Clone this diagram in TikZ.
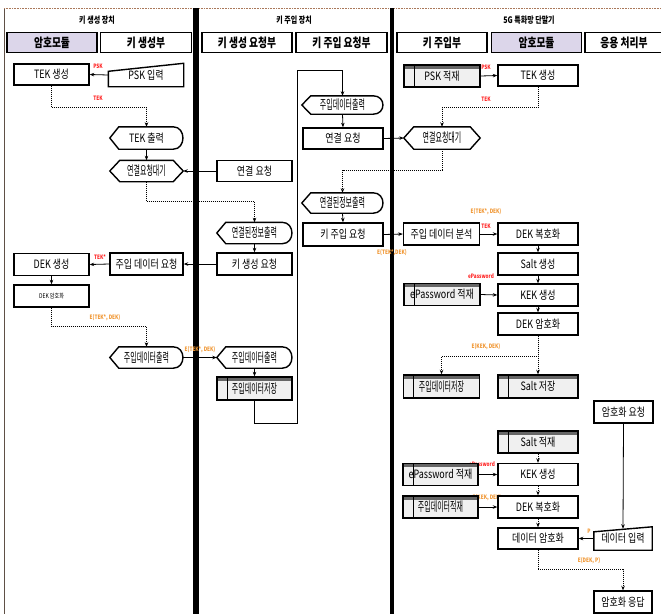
\documentclass[tikz,border=0pt]{standalone}
\usepackage{fontspec}
\usepackage{graphicx}
\setmainfont{Noto Sans CJK KR}[FakeStretch=0.78]
\usetikzlibrary{arrows.meta,calc}
\definecolor{purp}{RGB}{220,214,234}
\definecolor{lred}{RGB}{255,35,35}
\definecolor{lorg}{RGB}{240,150,50}
\definecolor{sgray}{RGB}{240,240,240}
\definecolor{brd}{RGB}{95,80,70}
\definecolor{topdot}{RGB}{170,120,90}
\newcommand\cmp[1]{\scalebox{0.69}[1]{\fontsize{13}{14}\selectfont #1}}
\tikzset{
 txt/.style={font=\fontsize{11.5}{12}\selectfont},
 bx/.style={draw, line width=1.4pt, fill=white, inner sep=0pt, minimum height=21pt, txt},
 lane/.style={draw, line width=1.7pt, fill=white, inner sep=0pt, minimum width=90pt, minimum height=20pt, font=\fontsize{12.5}{13}\selectfont\bfseries},
 store/.style={bx, fill=sgray, path picture={
   \fill[black!60] (path picture bounding box.north west) rectangle ([yshift=-3.5pt]path picture bounding box.north east);
   \draw[line width=0.9pt] ([xshift=10pt]path picture bounding box.north west) -- ([xshift=10pt]path picture bounding box.south west);
 }},
 ghost/.style={inner sep=0pt, txt},
 shp/.style={draw, line width=1.4pt},
 arr/.style={-{Stealth[length=4.5pt,width=3.5pt]}, line width=0.8pt},
 dotarr/.style={arr, dash pattern=on 1pt off 1pt},
 rlab/.style={text=lred, inner sep=0pt, font=\fontsize{6}{6}\selectfont\bfseries},
 olab/.style={rlab, text=lorg},
 ttl/.style={inner sep=0pt, font=\fontsize{9}{10}\selectfont\bfseries},
}
% name, x, y, text, width, height
\newcommand\DispN[6]{%
 \node[ghost, minimum width=#5pt, minimum height=#6pt] (#1) at (#2,#3) {#4};
 \draw[shp] (#1.west) -- ([xshift=9pt]#1.north west) -- ([xshift=-10pt]#1.north east)
   .. controls ([xshift=3pt]#1.north east) and ([xshift=3pt]#1.south east) .. ([xshift=-10pt]#1.south east)
   -- ([xshift=9pt]#1.south west) -- cycle;}
\newcommand\HexN[6]{%
 \node[ghost, minimum width=#5pt, minimum height=#6pt] (#1) at (#2,#3) {#4};
 \draw[shp] (#1.west) -- ([xshift=10pt]#1.north west) -- ([xshift=-10pt]#1.north east) -- (#1.east)
   -- ([xshift=-10pt]#1.south east) -- ([xshift=10pt]#1.south west) -- cycle;}
% name, x, y, text, width, height, slant
\newcommand\ManN[7]{%
 \node[ghost, minimum width=#5pt, minimum height=#6pt] (#1) at (#2,#3) {#4};
 \draw[shp] (#1.south west) -- ([yshift=-#7pt]#1.north west) -- (#1.north east) -- (#1.south east) -- cycle;}
\begin{document}
\begin{tikzpicture}[x=1pt,y=-1pt]
\useasboundingbox (0,0) rectangle (661,614);
% frame and lane separators
\draw[brd, line width=0.8pt] (4,8) -- (4,614);
\draw[topdot, densely dotted, line width=0.6pt] (4,8) -- (661,8);
\fill (193,8) rectangle (199,614);
\fill (390,8) rectangle (394,614);
% titles
\node[ttl] (t1) at (97,20) {키 생성 장치};
\node[ttl] (t2) at (294,20) {키 주입 장치};
\node[ttl] (t3) at (529,20) {5G 특화망 단말기};
% lane headers
\node[lane, fill=purp] (ln1) at (52,42.5) {암호모듈};
\node[lane, minimum width=91pt] (ln2) at (146,42.5) {키 생성부};
\node[lane] (ln3) at (247,42.5) {키 생성 요청부};
\node[lane, minimum width=91pt] (ln4) at (341.5,42.5) {키 주입 요청부};
\node[lane] (ln5) at (442,42.5) {키 주입부};
\node[lane, fill=purp] (ln6) at (536.5,42.5) {암호모듈};
\node[lane, minimum width=78pt] (ln7) at (624,42.5) {응용 처리부};
% labels (drawn before boxes)
\node[rlab] (lb1) at (98,66) {PSK};
\node[rlab] (lb2) at (98,98) {TEK};
\node[rlab] (lb3) at (100,257) {TEK*};
\node[olab] (lb4) at (105,318) {E(TEK*, DEK)};
\node[olab] (lb5) at (200,350) {E(TEK*, DEK)};
\node[olab] (lb6) at (392,253) {E(TEK*,DEK)};
\node[olab] (lb7) at (486,212) {E(TEK*, DEK)};
\node[rlab] (lb8) at (486,226) {TEK};
\node[rlab] (lb9) at (486,67) {PSK};
\node[rlab] (lb10) at (486,99) {TEK};
\node[rlab] (lb11) at (481,276) {ePassword};
\node[olab] (lb12) at (486,347) {E(KEK, DEK)};
\node[rlab] (lb13) at (482,464) {ePassword};
\node[olab] (lb14) at (487,498) {E(KEK, DEK)};
\node[olab] (lb15) at (589,531) {P};
\node[olab] (lb16) at (589,561) {E(DEK, P)};
% key generation device
\node[bx, minimum width=75pt] (tek1) at (51.5,74.5) {TEK 생성};
\ManN{psk1}{146}{75}{PSK 입력}{75}{23}{8}
\DispN{tekout}{146.5}{138}{TEK 출력}{73}{22}
\HexN{wait1}{146.5}{171}{\cmp{연결요청대기}}{73}{21}
\node[bx, minimum width=75pt] (conreq1) at (254.5,171) {연결 요청};
\DispN{coninfo1}{254.5}{233}{\cmp{연결된정보출력}}{75}{21}
\node[bx, minimum width=75pt, minimum height=22pt] (keygenreq) at (254.5,264) {키 생성 요청};
\node[bx, minimum width=73pt, minimum height=22pt] (injreq) at (146.5,264) {주입 데이터 요청};
\node[bx, minimum width=75pt, minimum height=22pt] (dekgen) at (51.5,264.5) {DEK 생성};
\node[bx, minimum width=75pt, minimum height=22pt, font=\fontsize{6.5}{7}\selectfont] (dekenc1) at (51.5,296) {DEK 암호화};
\DispN{injout1}{146.5}{357.5}{\cmp{주입데이터출력}}{73}{21}
\DispN{injout2}{254.5}{357.5}{\cmp{주입데이터출력}}{75}{21}
\node[store, minimum width=75pt, minimum height=23pt] (injstore1) at (254.5,388.5) {\cmp{주입데이터저장}};
% key injection request
\DispN{injout3}{342.5}{105}{\cmp{주입데이터출력}}{81}{18}
\node[bx, minimum width=80pt, minimum height=21pt] (conreq2) at (343,138.5) {연결 요청};
\DispN{coninfo2}{342.5}{203}{\cmp{연결된정보출력}}{81}{20}
\node[bx, minimum width=80pt, minimum height=23pt] (keyinjreq) at (343,234.5) {키 주입 요청};
% terminal
\node[store, minimum width=76pt, minimum height=22pt] (pskload) at (442,76) {PSK 적재};
\node[bx, minimum width=80pt] (tek2) at (538,75.5) {TEK 생성};
\HexN{wait2}{442}{138}{\cmp{연결요청대기}}{76}{22}
\node[bx, minimum width=76pt, minimum height=22pt] (injana) at (441.5,234) {주입 데이터 분석};
\node[bx, minimum width=80pt, minimum height=22pt] (dekdec1) at (538,234) {DEK 복호화};
\node[bx, minimum width=80pt, minimum height=22pt] (saltgen) at (538,264) {Salt 생성};
\node[store, minimum width=76pt, minimum height=22pt] (epw1) at (442,294.5) {ePassword 적재};
\node[bx, minimum width=80pt, minimum height=22pt] (kek1) at (538,295) {KEK 생성};
\node[bx, minimum width=80pt, minimum height=22pt] (dekenc2) at (538,324) {DEK 암호화};
\node[store, minimum width=76pt, minimum height=23pt] (injstore2) at (441.5,386.5) {\cmp{주입데이터저장}};
\node[store, minimum width=80pt, minimum height=23pt] (saltstore) at (538,386.5) {Salt 저장};
\node[bx, minimum width=59pt, minimum height=22pt] (encreq) at (623.5,412) {암호화 요청};
\node[store, minimum width=80pt, minimum height=22pt] (saltload) at (538,442) {Salt 적재};
\node[bx, minimum width=80pt, minimum height=22pt] (kek2) at (538,474.5) {KEK 생성};
\node[store, minimum width=75pt, minimum height=22pt] (epw2) at (440.5,474.5) {ePassword 적재};
\node[bx, minimum width=80pt, minimum height=22pt] (dekdec2) at (538,507) {DEK 복호화};
\node[store, minimum width=75pt, minimum height=22pt] (injload) at (440.5,507) {\cmp{주입데이터적재}};
\node[bx, minimum width=80pt, minimum height=21pt] (dataenc) at (538,538.5) {데이터 암호화};
\ManN{datain}{623}{538.5}{데이터 입력}{58}{23}{5}
\node[bx, minimum width=58pt, minimum height=22pt] (encresp) at (623,602) {암호화 응답};
% loop coordinates
\coordinate (lp1) at (297,423);
\coordinate (lp2) at (297,70);
% connectors: key generation device
\draw[arr] (psk1.west) -- (tek1.east);
\draw[dotarr] (tek1.south) -- ++(0,22) -| (tekout.north);
\draw[arr] (tekout.south) -- (wait1.north);
\draw[arr] (conreq1.west) -- (wait1.east);
\draw[dotarr] (wait1.south) -- ++(0,20) -| (coninfo1.north);
\draw[arr] (coninfo1.south) -- (keygenreq.north);
\draw[arr] (keygenreq.west) -- (injreq.east);
\draw[arr] (injreq.west) -- (dekgen.east);
\draw[arr] (dekgen.south) -- (dekenc1.north);
\draw[dotarr] (dekenc1.south) -- ++(0,19) -| (injout1.north);
\draw[arr] (injout1.east) -- (injout2.west);
\draw[arr] (injout2.south) -- (injstore1.north);
\draw[arr, line width=0.7pt] (injstore1.south) |- (lp1) -- (lp2) -| (injout3.north);
% key injection request
\draw[arr] (injout3.south) -- (conreq2.north);
\draw[arr] (conreq2.east) -- (wait2.west);
\draw[dotarr] (wait2.south) -- ++(0,21) -| (coninfo2.north);
\draw[arr] (coninfo2.south) -- (keyinjreq.north);
\draw[arr] (keyinjreq.east) -- (injana.west);
% terminal
\draw[arr] (pskload.east) -- (tek2.west);
\draw[dotarr] (tek2.south) -- ++(0,21) -| (wait2.north);
\draw[arr] (injana.east) -- (dekdec1.west);
\draw[arr] (dekdec1.south) -- (saltgen.north);
\draw[arr] (saltgen.south) -- (kek1.north);
\draw[arr] (epw1.east) -- (kek1.west);
\draw[arr] (kek1.south) -- (dekenc2.north);
\draw[dotarr] (dekenc2.south) -- ++(0,21) -| (injstore2.north);
\draw[dotarr] (dekenc2.south) -- (saltstore.north);
\draw[dotarr] (saltload.south) -- (kek2.north);
\draw[arr] (epw2.east) -- (kek2.west);
\draw[dotarr] (kek2.south) -- (dekdec2.north);
\draw[arr] (injload.east) -- (dekdec2.west);
\draw[dotarr] (dekdec2.south) -- (dataenc.north);
\draw[arr] (encreq.south) -- ([yshift=-2pt]datain.north);
\draw[arr] (datain.west) -- (dataenc.east);
\draw[dotarr] (dataenc.south) -- ++(0,20) -| (encresp.north);
\end{tikzpicture}
\end{document}
